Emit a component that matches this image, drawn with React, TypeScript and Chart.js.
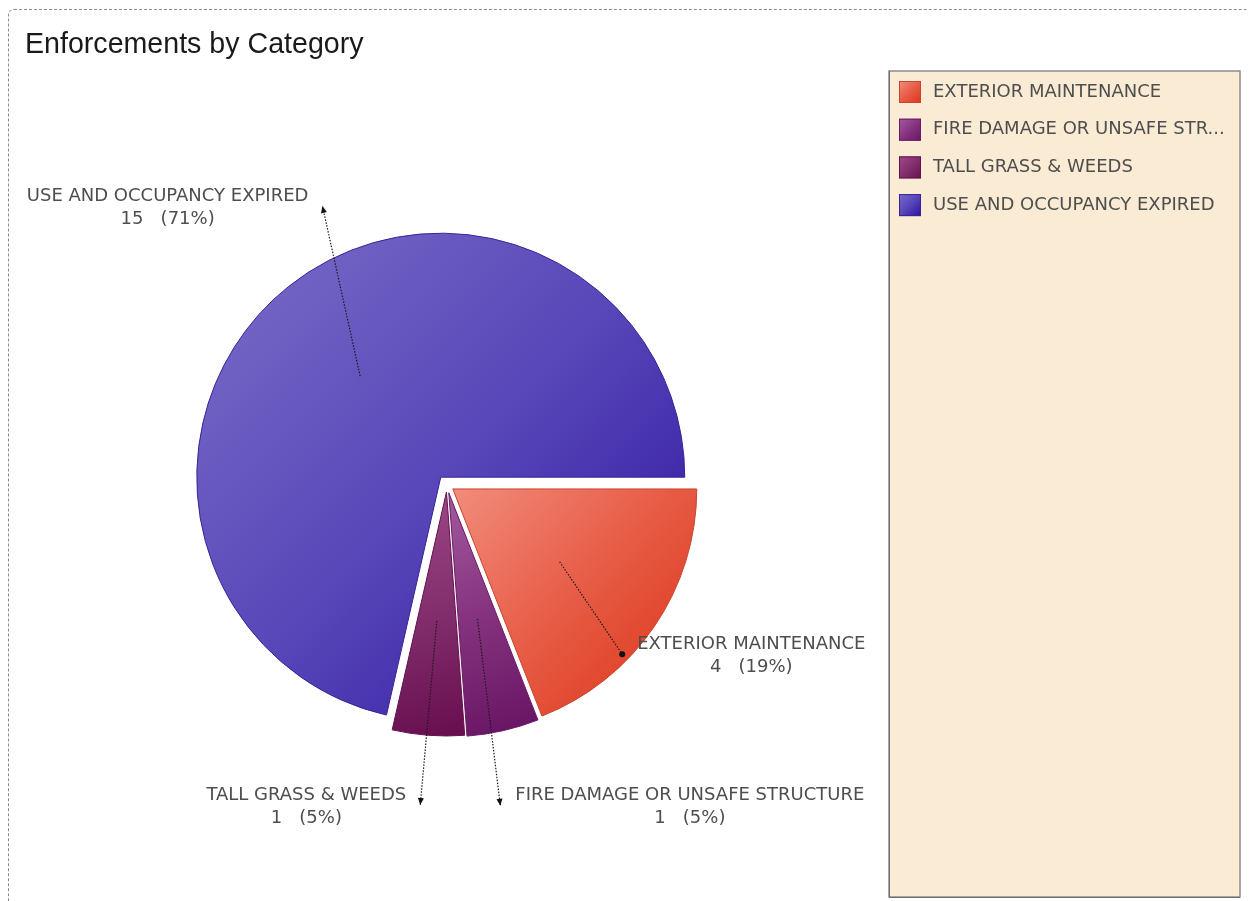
import React, { useEffect, useRef } from 'react';
import { Chart, registerables } from 'chart.js';

Chart.register(...registerables);

// ---- data ----
const TITLE = 'Enforcements by Category';
const CATEGORIES = [
  'EXTERIOR MAINTENANCE',
  'FIRE DAMAGE OR UNSAFE STRUCTURE',
  'TALL GRASS & WEEDS',
  'USE AND OCCUPANCY EXPIRED',
];
const COUNTS = [4, 1, 1, 15];

// ---- styles ----
const GRADIENT_STOPS = [
  ['#f28e7e', '#e75c46', '#dc3418'],
  ['#a45ca0', '#86347f', '#681464'],
  ['#a04a88', '#84306e', '#680f50'],
  ['#7a6cc8', '#5646b8', '#2c0e9e'],
];
const BORDER_COLORS = ['#c9442e', '#6a1a66', '#641050', '#3a2296'];
const EXPLODE = [7, 8, 7, 10];
const LEADERS = [
  { shift: 10, reach: 0.97 },
  { shift: 3.5, reach: 1.3 },
  { shift: 0.5, reach: 1.287 },
  { shift: 15, reach: 1.213 },
];
const PIE_RADIUS = 244;
const ROTATION_DEG = 90;
const LABEL_FONT = '18px "DejaVu Sans", Verdana, sans-serif';
const TITLE_FONT = '28.6px "Liberation Sans", Arial, sans-serif';
const TEXT_COLOR = '#4e4e4e';

const CANVAS_W = 1242;
const CANVAS_H = 898;

function sliceBox(cx: number, cy: number, r: number, a0: number, a1: number) {
  const xs = [cx, cx + r * Math.cos(a0), cx + r * Math.cos(a1)];
  const ys = [cy, cy + r * Math.sin(a0), cy + r * Math.sin(a1)];
  for (let k = -4; k <= 8; k++) {
    const a = (k * Math.PI) / 2;
    if (a > a0 && a < a1) {
      xs.push(cx + r * Math.cos(a));
      ys.push(cy + r * Math.sin(a));
    }
  }
  return { x0: Math.min(...xs), y0: Math.min(...ys), x1: Math.max(...xs), y1: Math.max(...ys) };
}

function sliceAngles(i: number) {
  const total = COUNTS.reduce((a, b) => a + b, 0);
  let cum = 0;
  for (let k = 0; k < i; k++) cum += COUNTS[k];
  const base = -Math.PI / 2 + (ROTATION_DEG * Math.PI) / 180;
  return [base + (cum / total) * Math.PI * 2, base + ((cum + COUNTS[i]) / total) * Math.PI * 2];
}

function makeGradient(ctx: CanvasRenderingContext2D, b: { x0: number; y0: number; x1: number; y1: number }, stops: string[]) {
  const g = ctx.createLinearGradient(b.x0, b.y0, b.x1, b.y1);
  stops.forEach((s, k) => g.addColorStop(k / (stops.length - 1), s));
  return g;
}

function fitText(ctx: CanvasRenderingContext2D, text: string, maxW: number) {
  if (ctx.measureText(text).width <= maxW) return text;
  let t = text;
  while (t.length > 1 && ctx.measureText(t + '...').width > maxW) t = t.slice(0, -1);
  return t.trimEnd() + '...';
}

const decorPlugin = {
  id: 'decor',
  afterDatasetUpdate(chart: any, args: any) {
    args.meta.data.forEach((el: any, i: number) => {
      const mid = (el.startAngle + el.endAngle) / 2;
      el.x += Math.cos(mid) * EXPLODE[i];
      el.y += Math.sin(mid) * EXPLODE[i];
    });
  },
  afterDraw(chart: any) {
    const ctx: CanvasRenderingContext2D = chart.ctx;
    const area = chart.chartArea;
    const pcx = (area.left + area.right) / 2;
    const meta = chart.getDatasetMeta(0);
    const total = COUNTS.reduce((a, b) => a + b, 0);
    ctx.save();

    // title
    ctx.font = TITLE_FONT;
    ctx.fillStyle = '#1a1a1a';
    ctx.textAlign = 'left';
    ctx.textBaseline = 'alphabetic';
    ctx.fillText(TITLE, 16, 43);

    // leader lines + labels
    meta.data.forEach((el: any, i: number) => {
      const R = el.outerRadius;
      const mid = (el.startAngle + el.endAngle) / 2;
      const sx = el.x + Math.cos(mid) * R * 0.53;
      const sy = el.y + Math.sin(mid) * R * 0.53;
      const ea = mid + (LEADERS[i].shift * Math.PI) / 180;
      const er = R * LEADERS[i].reach;
      const ex = el.x + Math.cos(ea) * er;
      const ey = el.y + Math.sin(ea) * er;
      ctx.strokeStyle = '#1a1a1a';
      ctx.lineWidth = 1.2;
      ctx.setLineDash([1.5, 1.5]);
      ctx.beginPath();
      ctx.moveTo(sx, sy);
      ctx.lineTo(ex, ey);
      ctx.stroke();
      ctx.setLineDash([]);
      ctx.fillStyle = '#111';
      if (LEADERS[i].reach < 1) {
        ctx.beginPath();
        ctx.arc(ex, ey, 3, 0, Math.PI * 2);
        ctx.fill();
      } else {
        const d = Math.atan2(ey - sy, ex - sx);
        const L = 7, W = 3;
        ctx.beginPath();
        ctx.moveTo(ex, ey);
        ctx.lineTo(ex - Math.cos(d) * L - Math.sin(d) * W, ey - Math.sin(d) * L + Math.cos(d) * W);
        ctx.lineTo(ex - Math.cos(d) * L + Math.sin(d) * W, ey - Math.sin(d) * L - Math.cos(d) * W);
        ctx.closePath();
        ctx.fill();
      }
      ctx.font = LABEL_FONT;
      ctx.fillStyle = TEXT_COLOR;
      ctx.textAlign = 'center';
      ctx.textBaseline = 'middle';
      const l1 = CATEGORIES[i];
      const l2 = `${COUNTS[i]}   (${Math.round((COUNTS[i] / total) * 100)}%)`;
      const w = Math.max(ctx.measureText(l1).width, ctx.measureText(l2).width);
      const left = ex >= pcx ? ex + 15 : ex - 14 - w;
      ctx.fillText(l1, left + w / 2, ey - 10);
      ctx.fillText(l2, left + w / 2, ey + 13);
    });

    // legend box
    const bx = 880, by = 61, bw = 351, bh = 826;
    ctx.fillStyle = '#faebd4';
    ctx.fillRect(bx, by, bw, bh);
    ctx.strokeStyle = '#8c8c8c';
    ctx.lineWidth = 1.5;
    ctx.strokeRect(bx, by, bw, bh);
    ctx.strokeStyle = '#6e6e6e';
    ctx.lineWidth = 1;
    ctx.beginPath();
    ctx.moveTo(bx + 0.5, by);
    ctx.lineTo(bx + 0.5, by + bh + 0.5);
    ctx.lineTo(bx + bw, by + bh + 0.5);
    ctx.stroke();

    ctx.font = LABEL_FONT;
    ctx.textAlign = 'left';
    ctx.textBaseline = 'middle';
    CATEGORIES.forEach((name, i) => {
      const cy = 82 + i * 37.7;
      const sxx = 890, syy = cy - 11;
      ctx.fillStyle = makeGradient(ctx, { x0: sxx, y0: syy, x1: sxx + 22, y1: syy + 22 }, GRADIENT_STOPS[i]);
      ctx.fillRect(sxx, syy, 22, 22);
      ctx.strokeStyle = BORDER_COLORS[i];
      ctx.lineWidth = 1;
      ctx.strokeRect(sxx + 0.5, syy + 0.5, 21, 21);
      ctx.fillStyle = TEXT_COLOR;
      ctx.fillText(fitText(ctx, name, bx + bw - 924 - 6), 924, cy);
    });
    ctx.restore();
  },
};

export default function App() {
  const ref = useRef<HTMLCanvasElement | null>(null);
  useEffect(() => {
    if (!ref.current) return;
    const chart = new Chart(ref.current, {
      type: 'pie',
      data: {
        labels: CATEGORIES,
        datasets: [
          {
            data: COUNTS,
            backgroundColor: (c: any) => {
              const i = c.dataIndex;
              const area = c.chart.chartArea;
              if (!area || i === undefined) return GRADIENT_STOPS[0][1];
              const cx = (area.left + area.right) / 2;
              const cy = (area.top + area.bottom) / 2;
              const [a0, a1] = sliceAngles(i);
              return makeGradient(c.chart.ctx, sliceBox(cx, cy, PIE_RADIUS, a0, a1), GRADIENT_STOPS[i]);
            },
            borderColor: BORDER_COLORS,
            borderWidth: 1,
          },
        ],
      },
      options: {
        animation: false,
        responsive: false,
        radius: PIE_RADIUS,
        rotation: ROTATION_DEG,
        layout: { padding: { left: 0, right: 366, top: 52, bottom: 0 } },
        plugins: {
          legend: { display: false },
          tooltip: { enabled: false },
          title: { display: false },
        },
      } as any,
      plugins: [decorPlugin],
    });
    return () => chart.destroy();
  }, []);

  return (
    <div
      style={{
        position: 'relative',
        top: 1,
        width: 1243,
        height: 900,
        boxSizing: 'border-box',
        border: '1px dashed #8c8c8c',
        borderRadius: 6,
        background: '#fff',
      }}
    >
      <canvas
        ref={ref}
        width={CANVAS_W}
        height={CANVAS_H}
        style={{ position: 'absolute', left: 0, top: 0, display: 'block', width: CANVAS_W, height: CANVAS_H }}
      />
    </div>
  );
}
